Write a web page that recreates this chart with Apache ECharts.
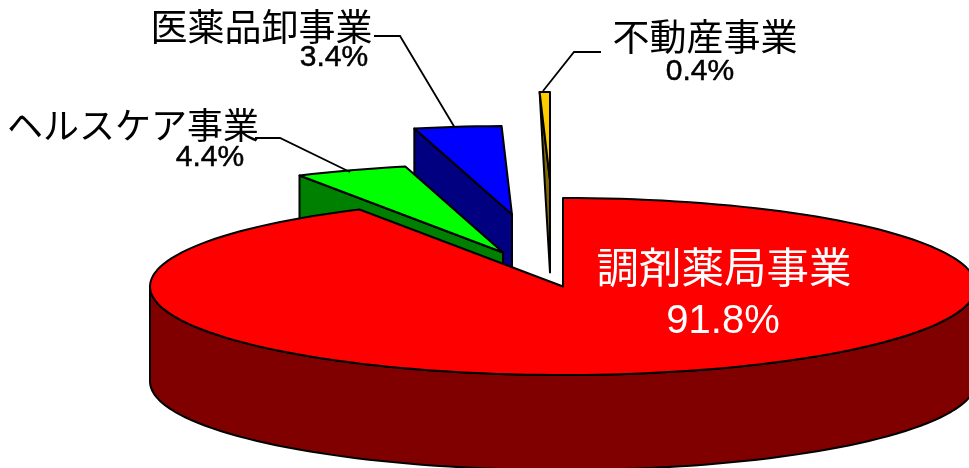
<!DOCTYPE html>
<html>
<head>
<meta charset="utf-8">
<style>html,body{margin:0;padding:0;background:#fff}#c{width:969px;height:468px}</style>
<script src="https://cdn.jsdelivr.net/npm/echarts@6/dist/echarts.min.js"></script>
</head>
<body>
<div id="c"></div>
<script>
// data
var categories = ['調剤薬局事業', 'ヘルスケア事業', '医薬品卸事業', '不動産事業'];
var values = [91.8, 4.4, 3.4, 0.4];

// styling / layout
var topColors = ['#FF0000', '#00FF00', '#0000FF', '#FFCC00'];
var wallColors = ['#800000', '#008000', '#000080', '#806600'];
var centre = [563, 286.5], rx = 413, ry = 88.5;
var depths = [95, 92, 92, 92];
var wallTaper = [0, 0, 0, 0.5];
var explode = [[0, 0], [-60, -34], [-51, -72], [-13, -106]];
// name x, name y, name size, percent x, percent y, percent size, colour, percent outline
var labelPos = [
  [724, 267, 42.5, 723, 322, 40, '#fff', 0],
  [133, 125, 36, 210, 158, 30, '#000', 0.5],
  [261.5, 27, 37, 334, 58, 30, '#000', 0.5],
  [705, 37, 37, 700, 72, 30, '#000', 0.5]
];
var leaders = [null,
  [[255, 138], [280, 138], [350, 172]],
  [[374, 36], [400, 36], [455, 128]],
  [[601, 52], [574, 52], [543, 91]]];

var total = values.reduce(function (a, b) { return a + b; }, 0);

function rim(cx, cy, deg) {
  var t = deg * Math.PI / 180;
  return [cx + rx * Math.sin(t), cy - ry * Math.cos(t)];
}
function arc(cx, cy, a, b) {
  var pts = [], n = Math.max(2, Math.ceil(Math.abs(b - a) / 2));
  for (var i = 0; i <= n; i++) pts.push(rim(cx, cy, a + (b - a) * i / n));
  return pts;
}
function poly(points, fill, z2) {
  return { type: 'polygon', z2: z2, shape: { points: points },
    style: { fill: fill, stroke: '#000', lineWidth: 2, lineJoin: 'round' } };
}

function renderItem(params, api) {
  var i = params.dataIndex;
  var before = 0;
  for (var k = 0; k < i; k++) before += values[k];
  var a0 = before / total * 360;
  var a1 = a0 + api.value(0) / total * 360;
  var cx = centre[0] + explode[i][0], cy = centre[1] + explode[i][1];
  var apex = [cx, cy];
  var depth = depths[i];
  var base = (categories.length - i) * 10;
  var children = [];

  if (i === 0) {
    // front outer wall: visible part of the rim (right side through bottom to left side)
    var front = arc(cx, cy, 90, 270);
    var lower = front.map(function (p) { return [p[0], p[1] + depth]; });
    children.push(poly(front.concat(lower.reverse()), wallColors[i], base));
  } else {
    // left radial face of an exploded slice
    var p = rim(cx, cy, a0);
    var bx = p[0] + (apex[0] - p[0]) * wallTaper[i];
    children.push(poly([p, apex, [apex[0], apex[1] + depth], [bx, p[1] + depth]], wallColors[i], base));
  }
  children.push(poly([apex].concat(arc(cx, cy, a0, a1)), topColors[i], base + 1));

  var L = labelPos[i];
  children.push({ type: 'text', z2: 100, style: { text: categories[i], x: L[0], y: L[1], fill: L[6],
    fontSize: L[2], fontFamily: '"Noto Sans CJK JP"', align: 'center', verticalAlign: 'middle' } });
  children.push({ type: 'text', z2: 100, style: { text: api.value(0).toFixed(1) + '%', x: L[3], y: L[4], fill: L[6],
    stroke: L[7] ? L[6] : null, lineWidth: L[7],
    fontSize: L[5], fontFamily: '"Liberation Sans"', align: 'center', verticalAlign: 'middle' } });
  if (leaders[i]) {
    children.push({ type: 'polyline', z2: 100, shape: { points: leaders[i] },
      style: { fill: null, stroke: '#000', lineWidth: 1.8 } });
  }
  return { type: 'group', children: children };
}

var chart = echarts.init(document.getElementById('c'), null, { renderer: 'canvas' });
chart.setOption({
  animation: false,
  backgroundColor: '#fff',
  series: [{
    type: 'custom',
    coordinateSystem: 'none',
    silent: true,
    renderItem: renderItem,
    data: values.map(function (v) { return [v]; })
  }]
});
</script>
</body>
</html>
